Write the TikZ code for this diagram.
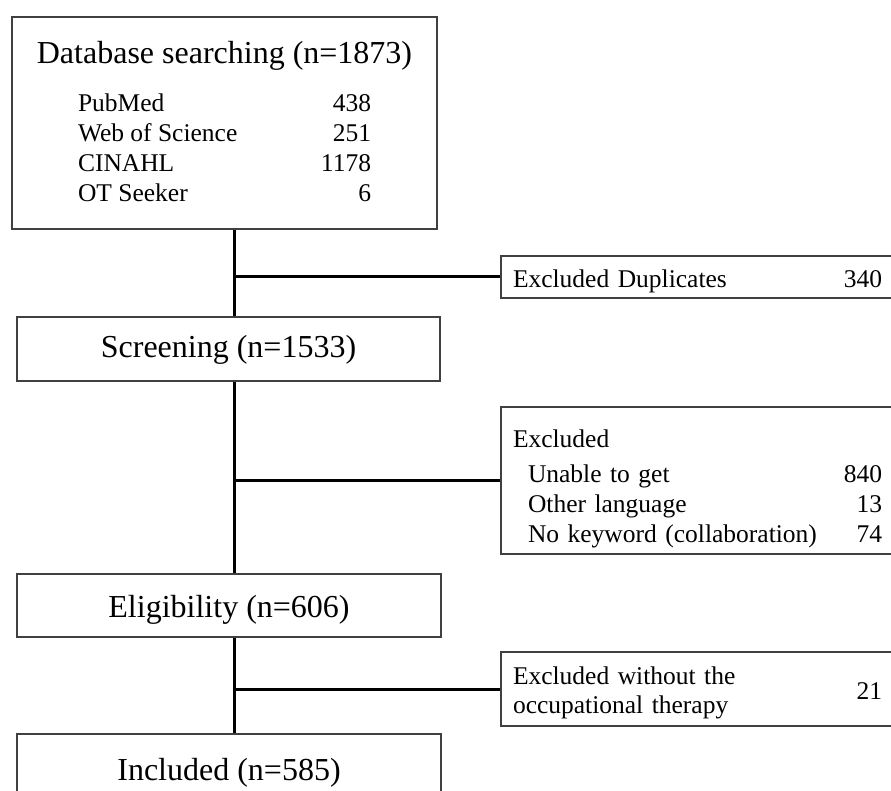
\documentclass[tikz,border=0pt]{standalone}
\usepackage{fontspec}
\setmainfont{Liberation Serif}
\newcommand{\stagefont}{\fontsize{32}{38}\selectfont}
\newcommand{\notefont}{\fontsize{25.5}{30}\selectfont}
\newcommand{\padtop}[1]{\rule{0pt}{#1}}
\tikzset{
  stagebox/.style={draw=black!75, line width=1.7pt, rectangle, inner sep=0pt, font=\stagefont,
    text height=22pt, text depth=7pt},
  notebox/.style={draw=black!75, line width=1.7pt, rectangle, inner xsep=12pt, inner ysep=0pt,
    text width=369pt, align=left, font=\notefont},
  link/.style={line width=3pt}
}
\begin{document}
\begin{tikzpicture}[x=1pt,y=-1pt]
\useasboundingbox (0,0) rectangle (891,791);
\coordinate (spine) at (234,0);
%------------------------------
% stages
%______________________________
\node[draw=black!75, line width=1.7pt, inner sep=0pt, minimum width=425pt, minimum height=212pt,
  font=\notefont] (search) at (224.5,123)
  {\begin{tabular*}{293pt}{@{}l@{\extracolsep{\fill}}r@{}}
   \multicolumn{2}{@{}c@{}}{\padtop{29pt}\makebox[0pt]{\stagefont Database searching (n=1873)}}\\[18pt]
   PubMed & 438\\
   Web of Science & 251\\
   CINAHL & 1178\\
   OT Seeker & 6
   \end{tabular*}};
\node[stagebox, minimum width=423pt, minimum height=64pt, text height=23pt] (screen) at (228.5,349) {Screening (n=1533)};
\node[stagebox, minimum width=424pt, minimum height=63pt, text height=30pt] (elig) at (229,605.5) {Eligibility (n=606)};
\node[stagebox, minimum width=424pt, minimum height=77pt] (incl) at (229,772.5) {Included (n=585)};
%------------------------------
% exclusions
%______________________________
\node[notebox, minimum height=42pt] (dup) at (697.5,277) {\padtop{25.5pt}Excluded Duplicates\hfill 340};
\node[notebox, minimum height=147pt] (excl) at (697.5,480.5)
  {\padtop{35.5pt}Excluded\\[5pt]
   \hspace*{15pt}Unable to get\hfill 840\\
   \hspace*{15pt}Other language\hfill 13\\
   \hspace*{15pt}No keyword (collaboration)\hfill 74};
\node[notebox, minimum height=74pt] (noot) at (697.5,689)
  {\padtop{44pt}\begin{tabular}[c]{@{}l@{}}Excluded without the\\[-1pt] occupational therapy\end{tabular}\hfill 21};
%
\draw[link] (search.south -| spine) -- (screen.north -| spine);
\draw[link] (screen.south -| spine) -- (elig.north -| spine);
\draw[link] (elig.south -| spine) -- (incl.north -| spine);
%
\draw[link] (dup.west -| spine) -- (dup.west);
\draw[link] (excl.west -| spine) -- (excl.west);
\draw[link] (noot.west -| spine) -- (noot.west);
\end{tikzpicture}
\end{document}
